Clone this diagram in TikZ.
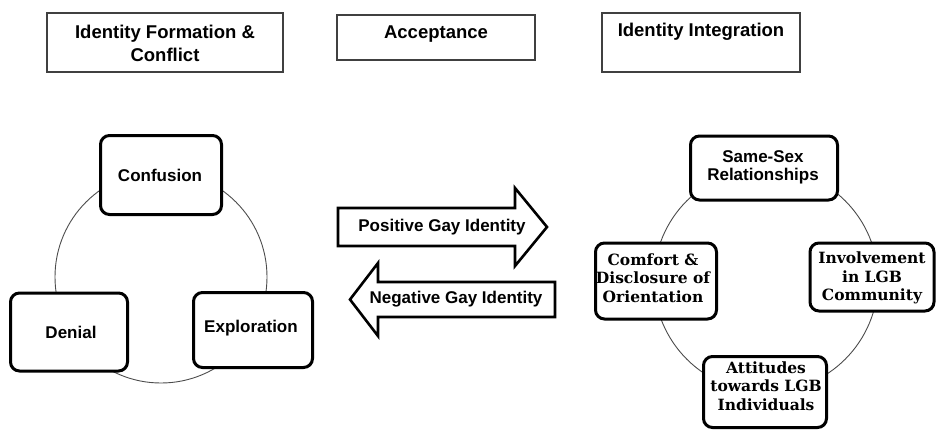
\documentclass[tikz,border=0pt]{standalone}
\usepackage{fontspec}
\newfontfamily\sansb{Liberation Sans}[BoldFont={Liberation Sans Bold}]
\newfontfamily\serifb{DejaVu Serif}
\begin{document}
\begin{tikzpicture}[x=1pt,y=-1pt,
  hdr/.style={draw=black!75, line width=1.1pt, fill=white, inner sep=0pt},
  hdrtext/.style={font=\sansb\bfseries\fontsize{18.5}{23}\selectfont, align=center, inner sep=0pt},
  stage/.style={draw=black, line width=3pt, rounded corners=9pt, fill=white, inner sep=0pt},
  sanslab/.style={font=\sansb\bfseries\fontsize{17}{18}\selectfont, align=center, inner sep=0pt},
  seriflab/.style={font=\serifb\bfseries\fontsize{15.5}{18.5}\selectfont, align=center, inner sep=0pt},
  ring/.style={draw=black!70, line width=0.9pt},
  bigarrow/.style={draw=black, line width=2.6pt, line join=miter, fill=white}
]
\useasboundingbox (0,0) rectangle (937,431);

% header boxes
\node[hdr, minimum width=236pt, minimum height=59pt] (h1) at (165,42.5) {};
\node[hdrtext] (t1) at (165,43.5) {Identity Formation \&\\Conflict};
\node[hdr, minimum width=198pt, minimum height=45pt] (h2) at (436,37.5) {};
\node[hdrtext] (t2) at (436,34) {Acceptance};
\node[hdr, minimum width=198pt, minimum height=59pt] (h3) at (701,42.5) {};
\node[hdrtext] (t3) at (701,32) {Identity Integration};

% left cycle
\coordinate (c1) at (161,277);
\draw[ring] (c1) circle[radius=106pt];
\node[stage, minimum width=121pt, minimum height=79pt] (conf) at (161,175) {};
\node[sanslab] (confT) at (160,175) {Confusion};
\node[stage, minimum width=117pt, minimum height=78pt] (den) at (69,332) {};
\node[sanslab] (denT) at (71,332) {Denial};
\node[stage, minimum width=119pt, minimum height=75pt] (exp) at (253,330) {};
\node[sanslab] (expT) at (251,328) {Exploration};

% arrows
\draw[bigarrow] (338,208) -- (515,208) -- (515,188) -- (547,227) -- (515,266) -- (515,246) -- (338,246) -- cycle;
\node[sanslab] (pos) at (442,227) {Positive Gay Identity};
\draw[bigarrow] (555,282) -- (378,282) -- (378,263) -- (350,299.5) -- (378,336) -- (378,317) -- (555,317) -- cycle;
\node[sanslab] (neg) at (456,299) {Negative Gay Identity};

% right cycle
\coordinate (c2) at (766,280);
\draw[ring] (c2) circle[radius=112pt];
\node[stage, minimum width=147pt, minimum height=64pt] (same) at (764,168) {};
\node[sanslab] (sameT) at (763,167) {Same-Sex\\Relationships};
\node[stage, minimum width=121pt, minimum height=76pt] (comf) at (656,281) {};
\node[seriflab] (comfT) at (653,278) {Comfort \&\\Disclosure of\\Orientation};
\node[stage, minimum width=124pt, minimum height=68pt] (inv) at (872,277) {};
\node[seriflab] (invT) at (872,278) {Involvement\\in LGB\\Community};
\node[stage, minimum width=123pt, minimum height=71pt] (att) at (765,392) {};
\node[seriflab] (attT) at (766,386) {Attitudes\\towards LGB\\Individuals};
\end{tikzpicture}
\end{document}
